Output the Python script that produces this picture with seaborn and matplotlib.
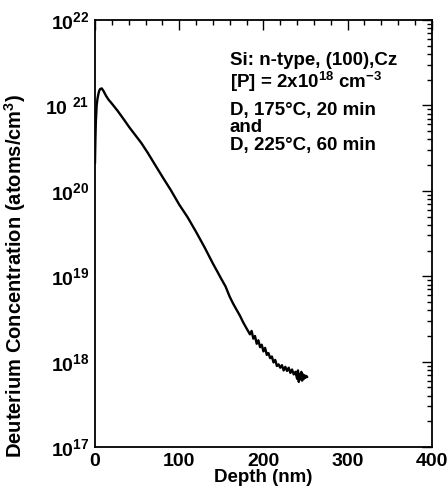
import numpy as np
import pandas as pd
import matplotlib
matplotlib.use("Agg")
import matplotlib.pyplot as plt
import seaborn as sns
from matplotlib.ticker import LogLocator, FixedLocator, MultipleLocator, NullFormatter

# --- data ---
depth_nm = [0, 0.5, 1, 2, 3, 4, 5, 6, 8, 10, 13, 16, 20, 27, 34, 41, 48, 55, 63, 71,
            81, 90, 100, 110, 120, 130, 140, 146, 150, 155, 160, 164, 168, 172, 176,
            180, 184, 186, 188, 190, 192, 194, 196, 198, 200, 202, 204, 206, 208, 210,
            212, 214, 216, 218, 220, 222, 224, 226, 228, 230, 232, 234, 236, 238, 240,
            241, 242, 243, 244, 245, 246, 247, 248, 249, 250, 251, 252]
conc = [2.09e20, 3.98e20, 6.31e20, 1.00e21, 1.20e21, 1.35e21, 1.48e21, 1.55e21, 1.58e21,
        1.48e21, 1.30e21, 1.17e21, 1.05e21, 8.6e20, 6.9e20, 5.5e20, 4.47e20, 3.63e20,
        2.75e20, 2.04e20, 1.41e20, 1.02e20, 6.9e19, 4.9e19, 3.31e19, 2.19e19, 1.41e19,
        1.10e19, 9.3e18, 7.6e18, 5.75e18, 4.79e18, 4.07e18, 3.47e18, 2.88e18,
        2.45e18, 2.09e18, 2.29e18, 1.86e18, 2.00e18, 1.62e18, 1.78e18, 1.48e18, 1.58e18,
        1.32e18, 1.45e18, 1.20e18, 1.26e18, 1.10e18, 1.15e18, 9.8e17, 1.05e18, 8.9e17,
        9.3e17, 8.5e17, 9.1e17, 7.9e17, 8.7e17, 7.8e17, 8.5e17, 7.4e17, 8.1e17, 7.1e17,
        7.6e17, 6.3e17, 7.9e17, 5.8e17, 7.2e17, 6.2e17, 7.6e17, 6.0e17, 7.1e17, 6.3e17,
        6.9e17, 6.5e17, 6.8e17, 6.6e17]

x_ticks = [0, 100, 200, 300, 400]
y_ticks = [1e17, 1e18, 1e19, 1e20, 1e21, 1e22]
y_ticklabels = ["10$^{17}$", "10$^{18}$", "10$^{19}$", "10$^{20}$", "10 $^{21}$", "10$^{22}$"]
note_lines = ["Si: n-type, (100),Cz",
              "[P] = 2x10$^{18}$ cm$^{-3}$",
              "D, 175°C, 20 min",
              "and",
              "D, 225°C, 60 min"]

df = pd.DataFrame({"depth": depth_nm, "conc": conc})

sns.set_style("white")
plt.rcParams["font.family"] = ["Liberation Sans", "DejaVu Sans"]
plt.rcParams["font.weight"] = "bold"
plt.rcParams["mathtext.fontset"] = "custom"
plt.rcParams["mathtext.rm"] = "Liberation Sans:bold"
plt.rcParams["mathtext.it"] = "Liberation Sans:bold"
plt.rcParams["mathtext.bf"] = "Liberation Sans:bold"
plt.rcParams["mathtext.default"] = "rm"
for k in ["text.color", "axes.labelcolor", "xtick.color", "ytick.color", "axes.edgecolor"]:
    plt.rcParams[k] = "black"

fig = plt.figure(figsize=(4.48, 4.86), dpi=100)
ax = fig.add_axes([0.212, 0.080, 0.752, 0.879])

sns.lineplot(data=df, x="depth", y="conc", ax=ax, color="black", linewidth=1.7,
             estimator=None, sort=False)

ax.set_yscale("log")
ax.set_xlim(0, 400)
ax.set_ylim(1e17, 1e22)

ax.xaxis.set_major_locator(FixedLocator(x_ticks))
ax.xaxis.set_minor_locator(MultipleLocator(20))
ax.set_xticklabels([str(t) for t in x_ticks], fontsize=14, fontweight="bold")
ax.yaxis.set_major_locator(FixedLocator(y_ticks))
ax.yaxis.set_minor_locator(LogLocator(base=10, subs=np.arange(2, 10), numticks=20))
ax.yaxis.set_minor_formatter(NullFormatter())
ax.set_yticklabels(y_ticklabels, fontsize=14, fontweight="bold")

ax.tick_params(which="both", direction="in", top=True, right=True, width=1.0, colors="black")
ax.tick_params(which="major", length=7, pad=4)
ax.tick_params(which="minor", length=3.5)
for s in ax.spines.values():
    s.set_linewidth(1.3)
    s.set_color("black")

ax.set_xlabel("Depth (nm)", fontsize=13.5, fontweight="bold")
ax.set_ylabel("Deuterium Concentration (atoms/cm$^3$)", fontsize=14.5, fontweight="bold")
ax.xaxis.set_label_coords(0.5, -0.052)
ax.yaxis.set_label_coords(-0.20, 0.40)

y_pos = [0.904, 0.855, 0.787, 0.749, 0.707]
for line, yp in zip(note_lines, y_pos):
    ax.text(0.40, yp, line, transform=ax.transAxes, fontsize=13.5, fontweight="bold", va="center")

fig.savefig("out.png", dpi=100)
